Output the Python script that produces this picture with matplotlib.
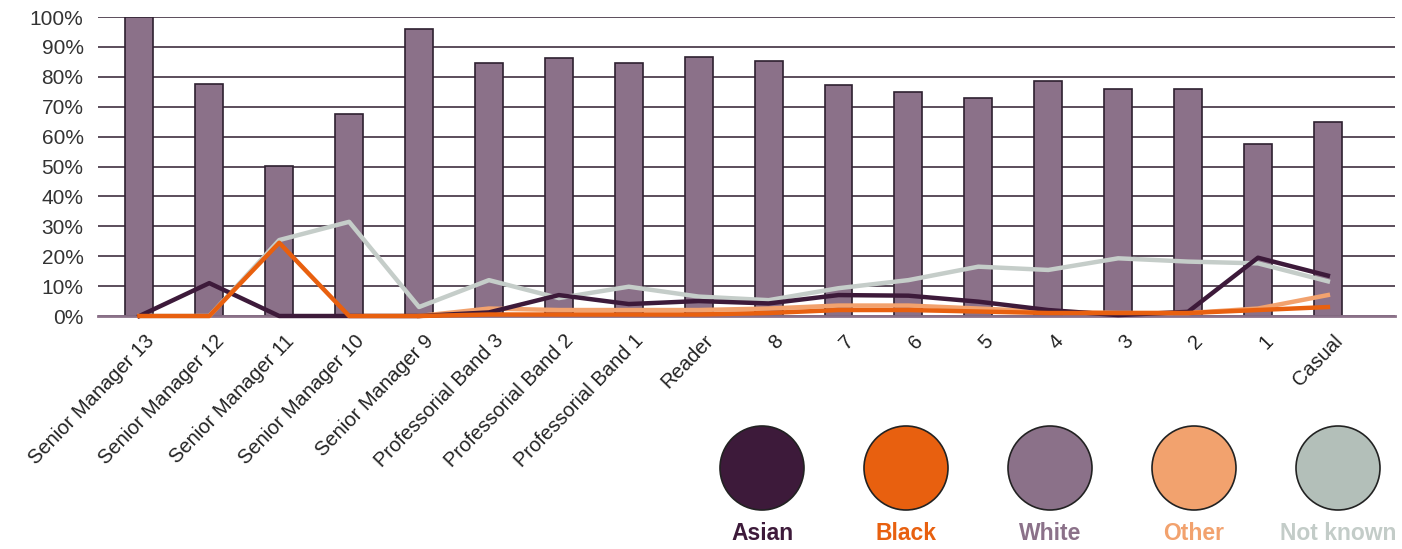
import matplotlib
matplotlib.use("Agg")
import matplotlib.pyplot as plt
import matplotlib.transforms as mtransforms
from matplotlib.patches import Ellipse
import numpy as np

plt.rcParams['font.family'] = ['Liberation Sans', 'DejaVu Sans']

# grades along the x axis
grades = ["Senior Manager 13", "Senior Manager 12", "Senior Manager 11",
          "Senior Manager 10", "Senior Manager 9", "Professorial Band 3",
          "Professorial Band 2", "Professorial Band 1", "Reader",
          "8", "7", "6", "5", "4", "3", "2", "1", "Casual"]

# percentages (nan = no value shown)
white = [100, 77.5, 50.3, 67.5, 96, 84.5, 86.2, 84.5, 86.5,
         85.4, 77.3, 74.8, 72.8, 78.7, 75.9, 75.9, 57.4, 64.8]
asian = [0, 11, 0, 0, 0, 1.2, 7, 4, 5, 4.2, 7, 6.8, 4.8, 2, 0.3, 1.4, 19.5, 13.5]
black = [0, 0, 24.5, 0, 0, 0.5, 0.5, 0.5, 0.5, 1, 2, 2, 1.5, 1, 1, 1, 2, 3]
other = [np.nan, np.nan, np.nan, np.nan, 0, 2.5, 2, 2, 2, 2.5, 3.5, 3.5, 2.5,
         1.5, 1, 1, 2.5, 7]
not_known = [0, 0, 25.4, 31.5, 3, 12, 6, 9.8, 6.5, 5.3, 9.3, 12, 16.5, 15.4,
             19.3, 18.2, 17.6, 11.6]

legend_names = ["Asian", "Black", "White", "Other", "Not known"]
legend_colors = ["#3d1a3a", "#e8600f", "#8b7189", "#f2a26e", "#b3bfb9"]
text_colors = ["#3d1a3a", "#e8600f", "#8b7189", "#f2a26e", "#c3ccc8"]

fig = plt.figure(figsize=(14.02, 5.49), dpi=100)
ax = fig.add_axes([0.070, 0.4244, 0.925, 0.5446])

x = np.arange(len(grades))
ax.bar(x, white, width=0.4, color="#8b7189", edgecolor="#2e2030",
       linewidth=1.2, zorder=2)

ax.plot(x, not_known, color="#c5cdc9", lw=3.2, zorder=3, clip_on=False)
ax.plot(x, other, color="#f2a26e", lw=3.2, zorder=4, clip_on=False)
ax.plot(x, asian, color="#3d1a3a", lw=3.2, zorder=5, clip_on=False)
ax.plot(x, black, color="#e8600f", lw=3.2, zorder=6, clip_on=False)

ax.set_xlim(-0.59, 17.96)
ax.set_ylim(0, 100)
ax.set_yticks(np.arange(0, 101, 10))
ax.set_yticklabels([f"{v}%" for v in range(0, 101, 10)], fontsize=15,
                   color="#333333")
ax.yaxis.grid(True, color="#4e3f4e", lw=1.3, zorder=0)
ax.set_axisbelow(True)
ax.tick_params(axis="y", length=0, pad=10.5)
ax.tick_params(axis="x", length=0, pad=11)
ax.set_xticks(x)
ax.set_xticklabels(grades, rotation=46, ha="right", rotation_mode="anchor",
                   fontsize=14.5, color="#222222")
shift = mtransforms.ScaledTranslation(5 / 100, 0, fig.dpi_scale_trans)
for lab in ax.get_xticklabels():
    lab.set_transform(lab.get_transform() + shift)
for s in ["top", "right", "left"]:
    ax.spines[s].set_visible(False)
ax.spines["bottom"].set_color("#8b7189")
ax.spines["bottom"].set_linewidth(2)

# legend: big circles with coloured names below
W, H = 1402, 549
for i, (name, col, tcol) in enumerate(zip(legend_names, legend_colors, text_colors)):
    cx = (762 + i * 144) / W
    e = Ellipse((cx, 1 - 468 / H), 84 / W, 84 / H, transform=fig.transFigure,
                facecolor=col, edgecolor="#222222", lw=1.2)
    fig.add_artist(e)
    fig.text(cx, 1 - 533 / H, name, ha="center", va="center", fontsize=16.5,
             fontweight="bold", color=tcol)

fig.savefig("out.png", dpi=100)
